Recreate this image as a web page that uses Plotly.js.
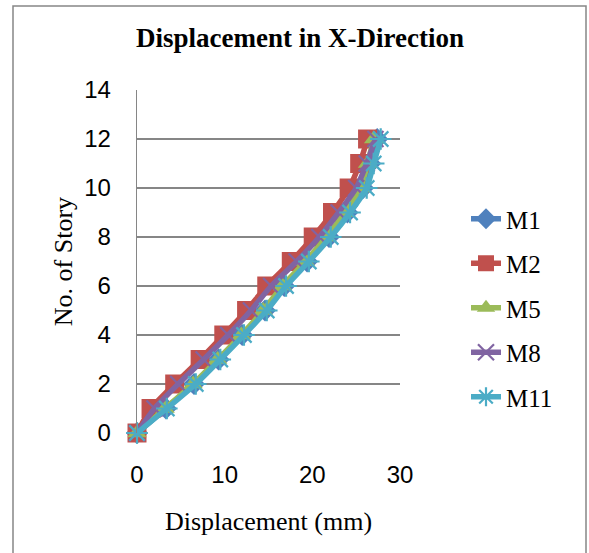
<!DOCTYPE html>
<html>
<head>
<meta charset="utf-8">
<script src="https://cdn.plot.ly/plotly-3.0.1.min.js"></script>
<style>
html,body{margin:0;padding:0;background:#fff;}
#chart{width:589px;height:553px;}
</style>
</head>
<body>
<div id="chart"></div>
<script>
// Data
const stories = [0,1,2,3,4,5,6,7,8,9,10,11,12];
const seriesNames = ['M1','M2','M5','M8','M11'];
const M1  = [0, 3.3, 6.5, 9.3, 12.0, 14.6, 16.8, 19.4, 21.9, 24.0, 25.8, 26.6, 27.4];
const M2  = [0, 1.6, 4.3, 7.2, 9.9, 12.5, 14.8, 17.6, 20.1, 22.3, 24.2, 25.4, 26.3];
const M5  = [0, 3.2, 6.4, 9.2, 11.9, 14.4, 16.6, 19.2, 21.6, 23.7, 25.5, 26.3, 27.0];
const M8  = [0, 2.0, 4.7, 7.6, 10.4, 13.0, 15.3, 18.2, 20.8, 23.0, 25.0, 26.2, 27.2];
const M11 = [0, 3.4, 6.7, 9.5, 12.2, 14.8, 17.0, 19.6, 22.1, 24.3, 26.2, 27.0, 27.8];
const xTicks = [0,10,20,30];
const yTicks = [0,2,4,6,8,10,12,14];

const values = [M1, M2, M5, M8, M11];
const colors = ['#4F81BD','#C0504D','#9BBB59','#8064A2','#4BACC6'];
const symbols = ['diamond','square','triangle-up','x-thin-open','asterisk-open'];
const msizes = [17,19,17,16,18];

const traces = values.map((v,i)=>({
  type:'scatter', mode:'lines+markers',
  name: seriesNames[i], legendgroup: 'g'+i,
  x: v, y: stories,
  cliponaxis:false,
  line:{color:colors[i], width:5.5, shape:'spline', smoothing:0.6},
  marker:{symbol:symbols[i], size:msizes[i], color:colors[i],
          line:{color:colors[i], width:(i>=3?2.2:0)}}
}));

const W=589, H=553;
const mL=137, mR=189, mT=90, mB=120;
const pw=W-mL-mR, ph=H-mT-mB;
const px=(p)=> (p-mL)/pw;
const py=(p)=> (H-mB-p)/ph;

const serif='"Liberation Serif","Times New Roman",serif';
const sans='"Liberation Sans",Arial,sans-serif';

const layout = {
  width:W, height:H,
  margin:{l:mL, r:mR, t:mT, b:mB, pad:0},
  paper_bgcolor:'#ffffff', plot_bgcolor:'#ffffff',
  showlegend:true,
  title:{text:'<b>Displacement in X-Direction</b>',
    font:{family:serif, size:27, color:'#000'},
    x:300/W, xanchor:'center', xref:'container',
    y:1-38/H, yanchor:'middle', yref:'container'},
  xaxis:{range:[0,30], tickvals:xTicks, ticktext:xTicks.map(String),
    showgrid:false, zeroline:false, showline:false, ticks:'',
    ticklabelstandoff:25,
    tickfont:{family:sans, size:24, color:'#000'},
    title:{text:'Displacement (mm)', font:{family:serif, size:26, color:'#000'}, standoff:24}},
  yaxis:{range:[0,14], tickvals:yTicks, ticktext:yTicks.map(String),
    showgrid:true, gridcolor:'#868686', gridwidth:1.3,
    zeroline:false, showline:true, linecolor:'#868686', linewidth:1.3, ticks:'',
    ticklabelstandoff:20,
    tickfont:{family:sans, size:24, color:'#000'},
    title:{text:'No. of Story', font:{family:serif, size:26, color:'#000'}, standoff:4}},
  legend:{x:px(466), xanchor:'left', y:py(196), yanchor:'top',
    font:{family:serif, size:25, color:'#000'},
    traceorder:'grouped', tracegroupgap:9, bgcolor:'rgba(0,0,0,0)', itemsizing:'trace'},
  shapes:[{type:'rect', xref:'paper', yref:'paper',
    x0:px(13), x1:px(586), y0:py(565), y1:py(6),
    line:{color:'#868686', width:1.5}, fillcolor:'rgba(0,0,0,0)', layer:'below'}]
};

Plotly.newPlot('chart', traces, layout, {staticPlot:true, displayModeBar:false});
</script>
</body>
</html>
